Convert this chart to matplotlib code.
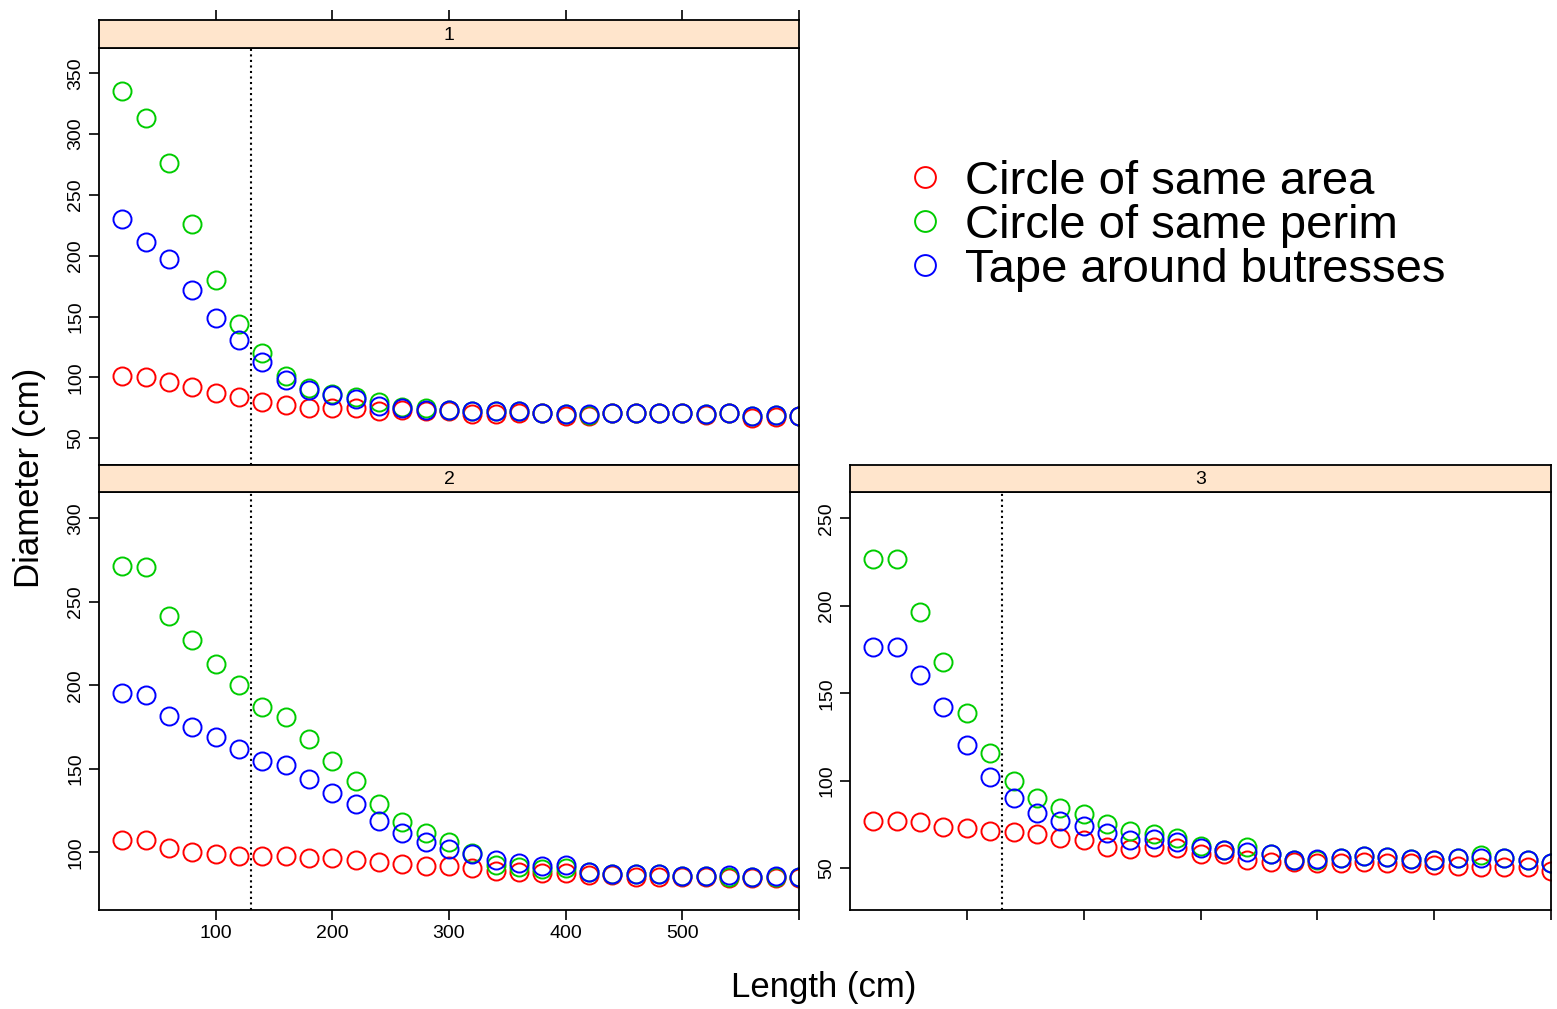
import matplotlib
matplotlib.use("Agg")
import matplotlib.pyplot as plt
from matplotlib.lines import Line2D

plt.rcParams['font.family'] = ['Liberation Sans', 'DejaVu Sans']

# length along the stem (cm)
lengths = [20, 40, 60, 80, 100, 120, 140, 160, 180, 200, 220, 240, 260, 280, 300,
           320, 340, 360, 380, 400, 420, 440, 460, 480, 500, 520, 540, 560, 580, 600]

# panel 1
p1_area = [101, 100, 96.5, 92, 87, 83.5, 80, 77, 75, 75, 74.5, 72.5, 73, 72, 72,
           70, 70, 71, 71, 68, 68, 70.5, 70.5, 70.5, 70.5, 69, 70.5, 67, 67.5, 68]
p1_perim = [335, 313, 276, 226, 180, 144, 120, 101, 91, 86.5, 83.5, 79.5, 76, 75, 73.3,
            72, 72, 72.5, 71, 70, 69.5, 71, 70.5, 70.5, 70.5, 70, 71, 68.5, 69.5, 68.5]
p1_tape = [230, 211, 197.5, 172, 149, 131, 113, 98, 90, 85.5, 82, 76.5, 74.5, 73.3, 73.3,
           72, 72, 72.5, 71, 69.6, 69.6, 71, 70.5, 70.5, 70.5, 70, 71, 68.5, 69, 68.5]

# panel 2
p2_area = [107.4, 107.4, 102.4, 100.4, 99, 97.8, 97.8, 97.8, 96.4, 96.4, 95.4, 94, 92.8, 91.8, 91.8,
           90.4, 89, 88.4, 87.4, 87.4, 86.4, 86.4, 85.4, 85.4, 85, 85, 84.4, 84.4, 84.4, 84.5]
p2_perim = [271.4, 271, 241.5, 227, 213, 200, 186.8, 180.8, 168, 154.9, 142.9, 128.9, 118.3, 111.4, 106,
            99.5, 92.4, 91, 89.8, 90.4, 88.4, 87, 87, 87, 86, 86, 85.4, 85.4, 85.5, 85]
p2_tape = [195.2, 194.2, 181.6, 174.8, 168.9, 162, 154.9, 152.3, 143.9, 135.7, 128.9, 118.9, 111.7, 106.3, 102,
           98.8, 95.4, 93.4, 91.8, 92.4, 88.4, 87, 87, 87, 86, 86, 86.4, 85.4, 85.8, 85]

# panel 3
p3_area = [77.2, 77.2, 76.3, 73.8, 72.9, 71.5, 70.6, 69.4, 67.1, 66.2, 62.3, 60.9, 62, 61.4, 58.2,
           58.2, 54.7, 53.8, 53.8, 52.9, 52.9, 53.8, 52.9, 52.9, 51.9, 51.5, 51, 51, 50.6, 48.5]
p3_perim = [227, 227, 196.3, 168, 138.6, 116, 100, 90.3, 84.6, 81, 75.3, 71.3, 69.4, 67.5, 63,
            60.5, 62.3, 58.2, 54.7, 54.5, 55.7, 57, 56.6, 55.1, 55, 55.7, 57.6, 55.7, 55, 53]
p3_tape = [176.3, 176.3, 160.5, 142, 120.5, 102.3, 90, 81.8, 77.2, 74.2, 70.3, 66.2, 66.6, 65.2, 61.5,
           60.5, 59.5, 58.2, 54.7, 55.1, 55.7, 57, 56.6, 55.1, 55, 55.7, 56, 55.7, 55, 52.9]

series_names = ['Circle of same area', 'Circle of same perim', 'Tape around butresses']
series_colors = ['#ff0000', '#00cc00', '#0000ff']
cutoff = 130

panels = [
    ('1', [p1_area, p1_perim, p1_tape], (28, 370.7), [50, 100, 150, 200, 250, 300, 350]),
    ('2', [p2_area, p2_perim, p2_tape], (65.5, 315.7), [100, 150, 200, 250, 300]),
    ('3', [p3_area, p3_perim, p3_tape], (26.2, 265), [50, 100, 150, 200, 250]),
]

W, H = 1557, 1009
fig = plt.figure(figsize=(W / 100, H / 100), dpi=100)

def fx(px):
    return px / W

def fy(px):
    return 1 - px / H

# (left px, right px, strip top px, panel top px, panel bottom px)
boxes = [(99, 799, 20, 48, 465), (99, 799, 465, 492, 910), (850, 1551, 465, 492, 910)]
xticks = [100, 200, 300, 400, 500, 600]

for (label, ys, ylim, yticks), (l, r, st, pt, pb) in zip(panels, boxes):
    ax = fig.add_axes([fx(l), fy(pb), fx(r - l), fy(pt) - fy(pb)])
    for y, c in zip(ys, series_colors):
        ax.plot(lengths, y, 'o', mfc='none', mec=c, ms=13, mew=1.4)
    ax.axvline(cutoff, color='black', ls=':', lw=1.5)
    ax.set_xlim(0, 600)
    ax.set_ylim(*ylim)
    ax.set_yticks(yticks)
    ax.tick_params(axis='y', direction='out', length=7, width=1.2, labelsize=14,
                   labelrotation=90)
    for t in ax.get_yticklabels():
        t.set_va('center')
    ax.set_xticks(xticks)
    if label == '1':
        ax.tick_params(axis='x', bottom=False, labelbottom=False)
    elif label == '2':
        ax.tick_params(axis='x', direction='out', length=7, width=1.2, labelsize=14)
        ax.set_xticklabels(['100', '200', '300', '400', '500', ''])
    else:
        ax.tick_params(axis='x', direction='out', length=7, width=1.2, labelbottom=False)
    for s in ax.spines.values():
        s.set_linewidth(1.3)

    sax = fig.add_axes([fx(l), fy(pt), fx(r - l), fy(st) - fy(pt)])
    sax.set_facecolor('#ffe5cc')
    sax.set_xlim(0, 600)
    sax.set_yticks([])
    sax.text(0.5, 0.45, label, ha='center', va='center', fontsize=14, transform=sax.transAxes)
    if label == '1':
        sax.set_xticks(xticks)
        sax.tick_params(axis='x', bottom=False, labelbottom=False, top=True,
                        direction='out', length=7, width=1.2)
    else:
        sax.set_xticks([])
    for s in sax.spines.values():
        s.set_linewidth(1.3)

fig.text(fx(30), fy(478), 'Diameter (cm)', rotation=90, ha='center', va='center', fontsize=25)
fig.text(fx(824), fy(988), 'Length (cm)', ha='center', va='center', fontsize=25)

handles = [Line2D([], [], ls='none', marker='o', mfc='none', mec=c, ms=15, mew=1.4)
           for c in series_colors]
fig.legend(handles, series_names, loc='upper left', bbox_to_anchor=(fx(882), fy(141)),
           frameon=False, fontsize=34, handlelength=1.0, handletextpad=0.35,
           labelspacing=0.0, borderaxespad=0)

fig.savefig('out.png', dpi=100)
